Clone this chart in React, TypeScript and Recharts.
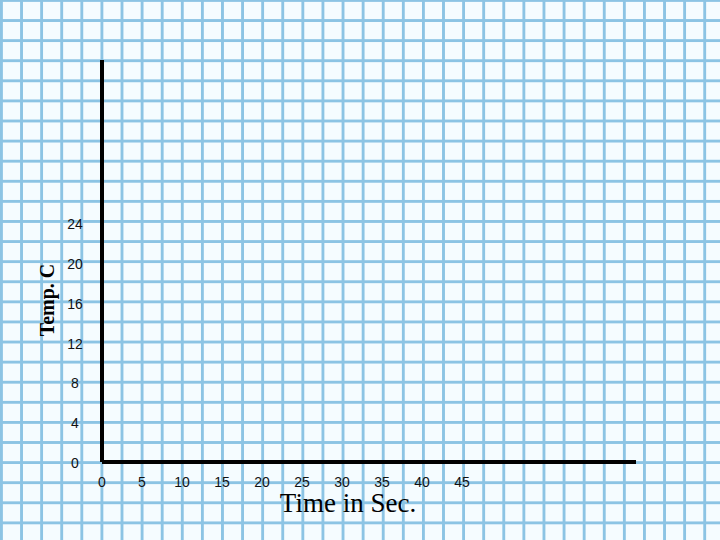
import React from 'react';
import { LineChart, Line, XAxis, YAxis } from 'recharts';

// Blank temperature-vs-time graph: axes only, no readings plotted yet
const timeTicks = [0, 5, 10, 15, 20, 25, 30, 35, 40, 45];
const tempTicks = [0, 4, 8, 12, 16, 20, 24];
const timeDomain: [number, number] = [0, 66.75];
const tempDomain: [number, number] = [0, 40.4];
const readings: { time: number; temp: number | null }[] = timeTicks.map((t) => ({ time: t, temp: null }));

const xTitle = 'Time in Sec.';
const yTitle = 'Temp. C';

const GRID = '#8cc4e4';
const TICK_FONT = '"Liberation Sans", Arial, sans-serif';
const TITLE_FONT = '"Liberation Serif", "Times New Roman", serif';

const YTick = (props: any) => {
  const { y, payload } = props;
  return (
    <text x={75} y={y + 1} textAnchor="middle" dominantBaseline="central" fontFamily={TICK_FONT} fontSize={14} fill="#111">
      {payload.value}
    </text>
  );
};

const XTick = (props: any) => {
  const { x, payload } = props;
  return (
    <text x={x} y={482} textAnchor="middle" dominantBaseline="central" fontFamily={TICK_FONT} fontSize={14} fill="#111">
      {payload.value}
    </text>
  );
};

export default function App() {
  return (
    <div
      style={{
        position: 'absolute',
        left: 0,
        top: 0,
        width: 720,
        height: 540,
        backgroundColor: '#f5fcff',
        backgroundImage: `linear-gradient(to right, ${GRID} 0px, ${GRID} 3px, transparent 3px), linear-gradient(to bottom, ${GRID} 0px, ${GRID} 3px, transparent 3px)`,
        backgroundSize: '20.1px 20.1px',
        backgroundPosition: '0px -1px',
      }}
    >
      <LineChart width={720} height={540} data={readings} margin={{ top: 60, right: 84, bottom: 48, left: 42 }}>
        <XAxis
          dataKey="time"
          type="number"
          domain={timeDomain}
          ticks={timeTicks}
          allowDataOverflow
          height={30}
          axisLine={{ stroke: '#000', strokeWidth: 4 }}
          tickLine={false}
          tick={<XTick />}
        />
        <YAxis
          type="number"
          domain={tempDomain}
          ticks={tempTicks}
          allowDataOverflow
          width={60}
          axisLine={{ stroke: '#000', strokeWidth: 4 }}
          tickLine={false}
          tick={<YTick />}
        />
        <Line dataKey="temp" stroke="#000" dot={false} isAnimationActive={false} />
        <text x={348} y={503} textAnchor="middle" dominantBaseline="central" fontFamily={TITLE_FONT} fontSize={27} fill="#000">
          {xTitle}
        </text>
        <text
          x={47}
          y={300}
          transform="rotate(-90 47 300)"
          textAnchor="middle"
          dominantBaseline="central"
          fontFamily={TITLE_FONT}
          fontWeight="bold"
          fontSize={20}
          fill="#000"
        >
          {yTitle}
        </text>
      </LineChart>
    </div>
  );
}
